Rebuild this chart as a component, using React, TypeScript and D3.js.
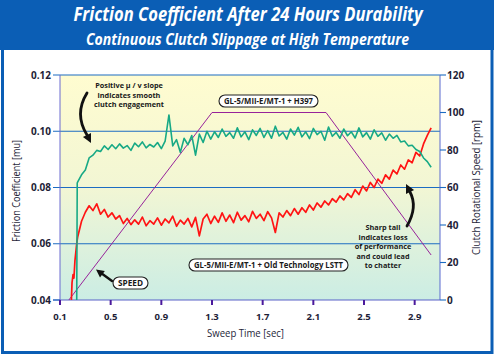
import React from 'react';
import * as d3 from 'd3';

const sweepTime = [
  0.24, 0.27, 0.30, 0.33, 0.36, 0.39, 0.42, 0.45, 0.48, 0.51,
  0.54, 0.57, 0.60, 0.63, 0.66, 0.69, 0.72, 0.75, 0.78, 0.81,
  0.84, 0.87, 0.90, 0.93, 0.96, 0.99, 1.02, 1.05, 1.08, 1.11,
  1.14, 1.17, 1.20, 1.23, 1.26, 1.29, 1.32, 1.35, 1.38, 1.41,
  1.44, 1.47, 1.50, 1.53, 1.56, 1.59, 1.62, 1.65, 1.68, 1.71,
  1.74, 1.77, 1.80, 1.83, 1.86, 1.89, 1.92, 1.95, 1.98, 2.01,
  2.04, 2.07, 2.10, 2.13, 2.16, 2.19, 2.22, 2.25, 2.28, 2.31,
  2.34, 2.37, 2.40, 2.43, 2.46, 2.49, 2.52, 2.55, 2.58, 2.61,
  2.64, 2.67, 2.70, 2.73, 2.76, 2.79, 2.82, 2.85, 2.88, 2.91,
  2.94, 2.97, 3.00, 3.03,
];

const h397Mu = [
  0.0820, 0.0845, 0.0862, 0.0905, 0.0915, 0.0932, 0.0928, 0.0948, 0.0935, 0.0952,
  0.0938, 0.0955, 0.0940, 0.0949, 0.0932, 0.0958, 0.0945, 0.0962, 0.0941, 0.0953,
  0.0944, 0.0960, 0.0938, 0.0965, 0.1058, 0.0948, 0.0970, 0.0925, 0.0975, 0.0952,
  0.0985, 0.0915, 0.0990, 0.0960, 0.1000, 0.0972, 0.0998, 0.0978, 0.1008, 0.0982,
  0.0995, 0.0975, 0.1012, 0.0980, 0.0998, 0.0970, 0.1005, 0.0985, 0.1010, 0.0978,
  0.1002, 0.0975, 0.1018, 0.0983, 0.0996, 0.0972, 0.1008, 0.0986, 0.1014, 0.0980,
  0.0998, 0.0974, 0.1010, 0.0988, 0.1000, 0.0968, 0.1015, 0.0982, 0.0996, 0.0975,
  0.1008, 0.0984, 0.0998, 0.0976, 0.1012, 0.0980, 0.0995, 0.0972, 0.1005, 0.0982,
  0.0994, 0.0968, 0.0990, 0.0975, 0.0985, 0.0962, 0.0965, 0.0948, 0.0950, 0.0935,
  0.0928, 0.0905, 0.0892, 0.0872,
];

const lsttMu = [
  0.0625, 0.0680, 0.0712, 0.0735, 0.0718, 0.0742, 0.0705, 0.0722, 0.0695, 0.0710,
  0.0688, 0.0700, 0.0672, 0.0690, 0.0668, 0.0685, 0.0670, 0.0695, 0.0664, 0.0682,
  0.0670, 0.0692, 0.0666, 0.0688, 0.0674, 0.0698, 0.0662, 0.0684, 0.0670, 0.0690,
  0.0660, 0.0694, 0.0628, 0.0688, 0.0705, 0.0672, 0.0698, 0.0676, 0.0710, 0.0680,
  0.0702, 0.0675, 0.0712, 0.0684, 0.0700, 0.0678, 0.0715, 0.0690, 0.0705, 0.0682,
  0.0714, 0.0692, 0.0640, 0.0710, 0.0695, 0.0718, 0.0700, 0.0725, 0.0705, 0.0728,
  0.0712, 0.0738, 0.0720, 0.0745, 0.0730, 0.0752, 0.0738, 0.0760, 0.0748, 0.0770,
  0.0756, 0.0778, 0.0765, 0.0792, 0.0775, 0.0805, 0.0788, 0.0818, 0.0800, 0.0830,
  0.0815, 0.0845, 0.0830, 0.0862, 0.0848, 0.0880, 0.0865, 0.0898, 0.0888, 0.0925,
  0.0912, 0.0955, 0.0985, 0.1012,
];

const h397OnsetTime = [0.232, 0.236];
const h397OnsetMu = [0.04, 0.0816];
const lsttOnsetTime = [0.19, 0.195, 0.203, 0.21, 0.218, 0.226, 0.233];
const lsttOnsetMu = [0.04, 0.0462, 0.049, 0.0478, 0.054, 0.0575, 0.0605];

const speedTime = [0.17, 1.3, 2.2, 3.03];
const speedRpm = [0, 100, 100, 24];

const xTicks = [0.1, 0.5, 0.9, 1.3, 1.7, 2.1, 2.5, 2.9];
const muTicks = [0.04, 0.06, 0.08, 0.1, 0.12];
const muGrid = [0.06, 0.08, 0.1, 0.12];
const rpmTicks = [0, 20, 40, 60, 80, 100, 120];

const W = 495;
const H = 356;
const L = 60, R = 440, T = 75, B = 300;
const FONT = "'Open Sans', 'DejaVu Sans', sans-serif";
const INK = '#1e1e38';

const x = d3.scaleLinear().domain([0.1, 3.1]).range([L, R]);
const yMu = d3.scaleLinear().domain([0.04, 0.12]).range([B, T]);
const yRpm = d3.scaleLinear().domain([0, 120]).range([B, T]);

function pairs(ts: number[], vs: number[]): [number, number][] {
  return ts.map((t, i) => [t, vs[i]] as [number, number]);
}

const muLine = d3.line<[number, number]>().x(d => x(d[0])).y(d => yMu(d[1]));
const rpmLine = d3.line<[number, number]>().x(d => x(d[0])).y(d => yRpm(d[1]));

const h397Data = pairs(h397OnsetTime.concat(sweepTime), h397OnsetMu.concat(h397Mu));
const lsttData = pairs(lsttOnsetTime.concat(sweepTime), lsttOnsetMu.concat(lsttMu));
const speedData = pairs(speedTime, speedRpm);

function Pill({ cx, cy, w, h, text }: { cx: number; cy: number; w: number; h: number; text: string }) {
  return (
    <g>
      <rect x={cx - w / 2} y={cy - h / 2} width={w} height={h} rx={h / 2} ry={h / 2}
        fill="#ffffff" stroke="#222" strokeWidth={1.1} />
      <text x={cx} y={cy + 3} textAnchor="middle" fontFamily={FONT} fontWeight={700}
        fontSize={8.5} fill="#1a1a1a" textLength={w - 10} lengthAdjust="spacingAndGlyphs">{text}</text>
    </g>
  );
}

function Lines({ cx, y0, dy, lines }: { cx: number; y0: number; dy: number; lines: string[] }) {
  return (
    <g>
      {lines.map((s, i) => (
        <text key={i} x={cx} y={y0 + i * dy} textAnchor="middle" fontFamily={FONT} fontWeight={700}
          fontSize={7.3} fill="#1a1a1a">{s}</text>
      ))}
    </g>
  );
}

function arrowHead(tipX: number, tipY: number, fromX: number, fromY: number, len = 8, half = 4.5) {
  const dx = tipX - fromX, dy = tipY - fromY;
  const n = Math.hypot(dx, dy);
  const ux = dx / n, uy = dy / n;
  const bx = tipX - ux * len, by = tipY - uy * len;
  const px = -uy * half, py = ux * half;
  return `M${tipX},${tipY}L${bx + px},${by + py}L${bx - px},${by - py}Z`;
}

export default function App() {
  return (
    <svg width={W} height={H} style={{ position: 'absolute', left: 0, top: 0, display: 'block' }}>
      <defs>
        <linearGradient id="bg" x1="0" y1="0" x2="0" y2="1">
          <stop offset="0%" stopColor="#fffcd0" />
          <stop offset="50%" stopColor="#f2f6d4" />
          <stop offset="100%" stopColor="#cbede4" />
        </linearGradient>
        <clipPath id="plot">
          <rect x={L} y={T - 2} width={R - L} height={B - T + 2} />
        </clipPath>
      </defs>
      <rect x={0} y={0} width={W} height={H} fill="#ffffff" />

      {/* title band */}
      <rect x={0} y={0} width={494} height={50} fill="#0b5eb5" />
      <text x={248} y={21} textAnchor="middle" fontFamily={FONT} fontWeight={700} fontStyle="italic"
        fontSize={19} fill="#ffffff" textLength={349} lengthAdjust="spacingAndGlyphs">
        Friction Coefficient After 24 Hours Durability
      </text>
      <text x={247.5} y={45} textAnchor="middle" fontFamily={FONT} fontWeight={700} fontStyle="italic"
        fontSize={15.5} fill="#ffffff" textLength={323} lengthAdjust="spacingAndGlyphs">
        Continuous Clutch Slippage at High Temperature
      </text>
      {/* frame */}
      <path d={`M2.5,49 L2.5,352.5 L492,352.5 L492,49`} fill="none" stroke="#0b5eb5" strokeWidth={3} />

      {/* plot background */}
      <rect x={L} y={T} width={R - L} height={B - T} fill="url(#bg)" />

      {/* gridlines */}
      {muGrid.map(v => (
        <line key={v} x1={53} x2={R} y1={yMu(v)} y2={yMu(v)} stroke="#1c6cc2" strokeWidth={1.1} />
      ))}
      {/* axes */}
      <line x1={L} x2={L} y1={T} y2={B} stroke="#6a6ad0" strokeWidth={1} />
      <line x1={R} x2={R} y1={T} y2={B} stroke="#5a6ad0" strokeWidth={1} />
      <line x1={53} x2={R} y1={B} y2={B} stroke="#5a62c8" strokeWidth={1.1} />
      <line x1={53} x2={L} y1={B} y2={B} stroke="#1c6cc2" strokeWidth={1.1} />

      {/* left ticks & labels */}
      {muTicks.map(v => (
        <text key={v} x={51} y={yMu(v) + 3.5} textAnchor="end" fontFamily={FONT} fontWeight={700}
          fontSize={10} fill={INK}>{v.toFixed(2)}</text>
      ))}
      {/* right ticks & labels */}
      {rpmTicks.map(v => (
        <g key={v}>
          <line x1={R} x2={446} y1={yRpm(v)} y2={yRpm(v)} stroke="#1c6cc2" strokeWidth={1.1} />
          <text x={447} y={yRpm(v) + 3.5} textAnchor="start" fontFamily={FONT} fontWeight={700}
            fontSize={10} fill={INK}>{v}</text>
        </g>
      ))}
      {/* bottom ticks & labels */}
      {xTicks.map(v => (
        <g key={v}>
          <line x1={x(v)} x2={x(v)} y1={B} y2={B + 5} stroke="#4b1a9c" strokeWidth={2} />
          <text x={x(v)} y={320} textAnchor="middle" fontFamily={FONT} fontWeight={700}
            fontSize={9.5} fill={INK}>{v.toFixed(1)}</text>
        </g>
      ))}

      {/* axis titles */}
      <text x={245.5} y={337} textAnchor="middle" fontFamily={FONT} fontSize={10} fill={INK}
        textLength={77} lengthAdjust="spacingAndGlyphs">Sweep Time [sec]</text>
      <text transform={`translate(20,191) rotate(-90)`} textAnchor="middle" fontFamily={FONT}
        fontSize={10.5} fill={INK} textLength={102} lengthAdjust="spacingAndGlyphs">Friction Coefficient [mu]</text>
      <text transform={`translate(480,187.5) rotate(-90)`} textAnchor="middle" fontFamily={FONT}
        fontSize={10.5} fill={INK} textLength={135} lengthAdjust="spacingAndGlyphs">Clutch Rotational Speed [rpm]</text>

      {/* series */}
      <g clipPath="url(#plot)">
        <path d={rpmLine(speedData) || ''} fill="none" stroke="#97239a" strokeWidth={1} />
        <path d={muLine(lsttData) || ''} fill="none" stroke="#ff1414" strokeWidth={1.7} strokeLinejoin="round" />
        <path d={muLine(h397Data) || ''} fill="none" stroke="#17a985" strokeWidth={1.6} strokeLinejoin="round" />
      </g>

      {/* annotations */}
      <Lines cx={129} y0={88} dy={9.6} lines={['Positive \u00b5 / v slope', 'indicates smooth', 'clutch engagement']} />
      <path d="M87,93 Q74,114 87,135" fill="none" stroke="#111" strokeWidth={2.8} strokeLinecap="round" />
      <path d={arrowHead(91, 143, 86, 133, 9, 4.5)} fill="#111" />

      <Pill cx={268.5} cy={101} w={99} h={12} text="GL-5/MII-E/MT-1 + H397" />
      <Pill cx={268.5} cy={265} w={159} h={12} text="GL-5/MII-E/MT-1 + Old Technology LSTT" />
      <Pill cx={130.5} cy={283} w={35} h={12} text="SPEED" />
      <path d="M112,281 L101,273" fill="none" stroke="#111" strokeWidth={2.4} strokeLinecap="round" />
      <path d={arrowHead(96, 269.5, 104, 275.5, 8, 4)} fill="#111" />

      <Lines cx={383} y0={230} dy={9.6}
        lines={['Sharp tail', 'indicates loss', 'of performance', 'and could lead', 'to chatter']} />
      <path d="M407,226 Q418,207 410,192" fill="none" stroke="#111" strokeWidth={2.8} strokeLinecap="round" />
      <path d={arrowHead(406, 184, 411, 194, 9, 4.5)} fill="#111" />
    </svg>
  );
}
